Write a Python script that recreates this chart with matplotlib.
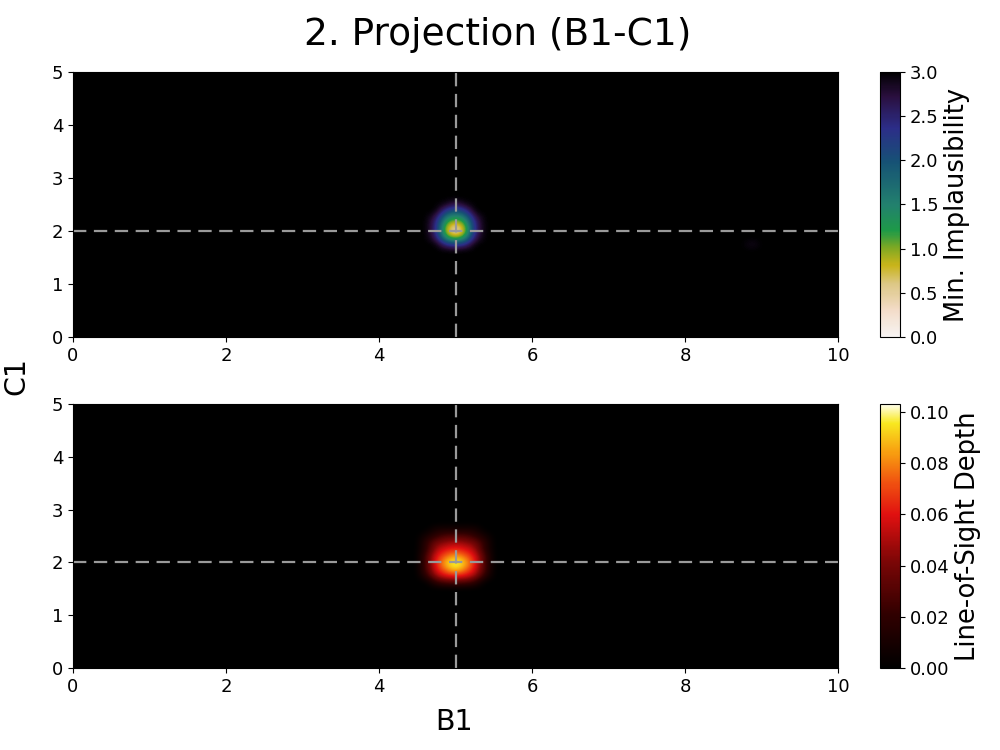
import numpy as np
import matplotlib
matplotlib.use("Agg")
import matplotlib.pyplot as plt
from matplotlib.colors import LinearSegmentedColormap
from matplotlib.ticker import FormatStrFormatter

# ---- data ----
title = "2. Projection (B1-C1)"
x_name = "B1"
y_name = "C1"
x_range = [0, 10]
y_range = [0, 5]
x_ticks = [0, 2, 4, 6, 8, 10]
y_ticks = [0, 1, 2, 3, 4, 5]
true_x = 5.0
true_y = 2.0
grid_step = 0.125

impl_max = 3.0
impl_ticks = [0.0, 0.5, 1.0, 1.5, 2.0, 2.5, 3.0]
# minimum implausibility patch around the estimate (rows = y, bottom -> top)
impl_patch_x0 = 4.625
impl_patch_y0 = 1.625
impl_patch = [
    [3.0, 3.0, 3.0, 3.0, 3.0, 3.0, 3.0],
    [3.0, 3.0, 2.4, 2.2, 2.4, 3.0, 3.0],
    [3.0, 2.6, 1.3, 0.9, 1.3, 2.6, 3.0],
    [3.0, 2.4, 0.8, 0.3, 0.8, 2.4, 3.0],
    [3.0, 2.4, 1.0, 0.6, 1.0, 2.4, 3.0],
    [3.0, 2.6, 1.5, 1.2, 1.5, 2.6, 3.0],
    [3.0, 3.0, 2.2, 1.9, 2.2, 3.0, 3.0],
    [3.0, 3.0, 2.9, 2.6, 2.9, 3.0, 3.0],
]
impl_speck_xy = [8.875, 1.75]
impl_speck_val = 2.85

depth_max = 0.103
depth_ticks = [0.00, 0.02, 0.04, 0.06, 0.08, 0.10]
depth_patch_x0 = 4.625
depth_patch_y0 = 1.625
depth_patch = [
    [0.00, 0.020, 0.030, 0.030, 0.030, 0.020, 0.00],
    [0.02, 0.050, 0.060, 0.065, 0.060, 0.050, 0.02],
    [0.03, 0.060, 0.080, 0.095, 0.080, 0.060, 0.03],
    [0.03, 0.065, 0.090, 0.103, 0.090, 0.065, 0.03],
    [0.03, 0.060, 0.075, 0.085, 0.075, 0.060, 0.03],
    [0.02, 0.050, 0.060, 0.065, 0.060, 0.050, 0.02],
    [0.02, 0.040, 0.045, 0.050, 0.045, 0.040, 0.02],
    [0.01, 0.020, 0.030, 0.030, 0.030, 0.020, 0.01],
    [0.00, 0.010, 0.010, 0.010, 0.010, 0.010, 0.00],
]

# ---- colormaps ----
impl_cmap = LinearSegmentedColormap.from_list("rainforest_r_like", [
    (0.00, "#f7f4f3"),
    (0.10, "#f3dcc8"),
    (0.20, "#dcc784"),
    (0.27, "#c9b41a"),
    (0.34, "#7aa824"),
    (0.40, "#1e9a48"),
    (0.50, "#22806e"),
    (0.66, "#165275"),
    (0.79, "#2c2d88"),
    (0.91, "#2a0f3e"),
    (1.00, "#000000"),
])
depth_cmap = LinearSegmentedColormap.from_list("ember_like", [
    (0.00, "#000000"),
    (0.20, "#300000"),
    (0.40, "#7a0606"),
    (0.58, "#e01010"),
    (0.70, "#f05010"),
    (0.82, "#f8a010"),
    (0.93, "#f8e820"),
    (1.00, "#ffffee"),
])


def build_grid(background, patch, x0, y0):
    nx = int(round((x_range[1] - x_range[0]) / grid_step)) + 1
    ny = int(round((y_range[1] - y_range[0]) / grid_step)) + 1
    g = np.full((ny, nx), background, dtype=float)
    p = np.array(patch, dtype=float)
    i0 = int(round((y0 - y_range[0]) / grid_step))
    j0 = int(round((x0 - x_range[0]) / grid_step))
    g[i0:i0 + p.shape[0], j0:j0 + p.shape[1]] = p
    return g


impl_grid = build_grid(impl_max, impl_patch, impl_patch_x0, impl_patch_y0)
si = int(round(impl_speck_xy[1] / grid_step))
sj = int(round(impl_speck_xy[0] / grid_step))
impl_grid[si, sj] = impl_speck_val
depth_grid = build_grid(0.0, depth_patch, depth_patch_x0, depth_patch_y0)

# ---- figure ----
fig = plt.figure(figsize=(10, 7.5), dpi=100)
ax1 = fig.add_axes([0.073, 0.5507, 0.765, 0.3533])
ax2 = fig.add_axes([0.073, 0.1093, 0.765, 0.3520])
cax1 = fig.add_axes([0.880, 0.5507, 0.020, 0.3533])
cax2 = fig.add_axes([0.880, 0.1093, 0.020, 0.3520])

ext = [x_range[0] - grid_step / 2, x_range[1] + grid_step / 2,
       y_range[0] - grid_step / 2, y_range[1] + grid_step / 2]
im1 = ax1.imshow(impl_grid, origin="lower", extent=ext, aspect="auto",
                 cmap=impl_cmap, vmin=0, vmax=impl_max, interpolation="bicubic")
im2 = ax2.imshow(depth_grid, origin="lower", extent=ext, aspect="auto",
                 cmap=depth_cmap, vmin=0, vmax=depth_max, interpolation="bicubic")

for ax in (ax1, ax2):
    ax.set_facecolor("black")
    ax.set_xlim(x_range)
    ax.set_ylim(y_range)
    ax.set_xticks(x_ticks)
    ax.set_yticks(y_ticks)
    ax.tick_params(labelsize=13)
    ax.axvline(true_x, color="#9a9a9a", lw=1.6, linestyle=(0, (6, 3.4)))
    ax.axhline(true_y, color="#9a9a9a", lw=1.6, linestyle=(0, (6, 3.4)))

cb1 = fig.colorbar(im1, cax=cax1, ticks=impl_ticks)
cb1.set_label("Min. Implausibility", fontsize=18.5)
cb1.ax.tick_params(labelsize=13)
cb2 = fig.colorbar(im2, cax=cax2, ticks=depth_ticks)
cb2.set_label("Line-of-Sight Depth", fontsize=18.5)
cb2.ax.tick_params(labelsize=13)
cb2.ax.yaxis.set_major_formatter(FormatStrFormatter("%.2f"))

fig.text(0.498, 0.953, title, fontsize=27, va="center", ha="center")
fig.text(0.016, 0.499, y_name, rotation=90, fontsize=20.5, va="center", ha="center")
fig.text(0.454, 0.037, x_name, fontsize=20.5, va="center", ha="center")

fig.savefig("out.png", dpi=100)
